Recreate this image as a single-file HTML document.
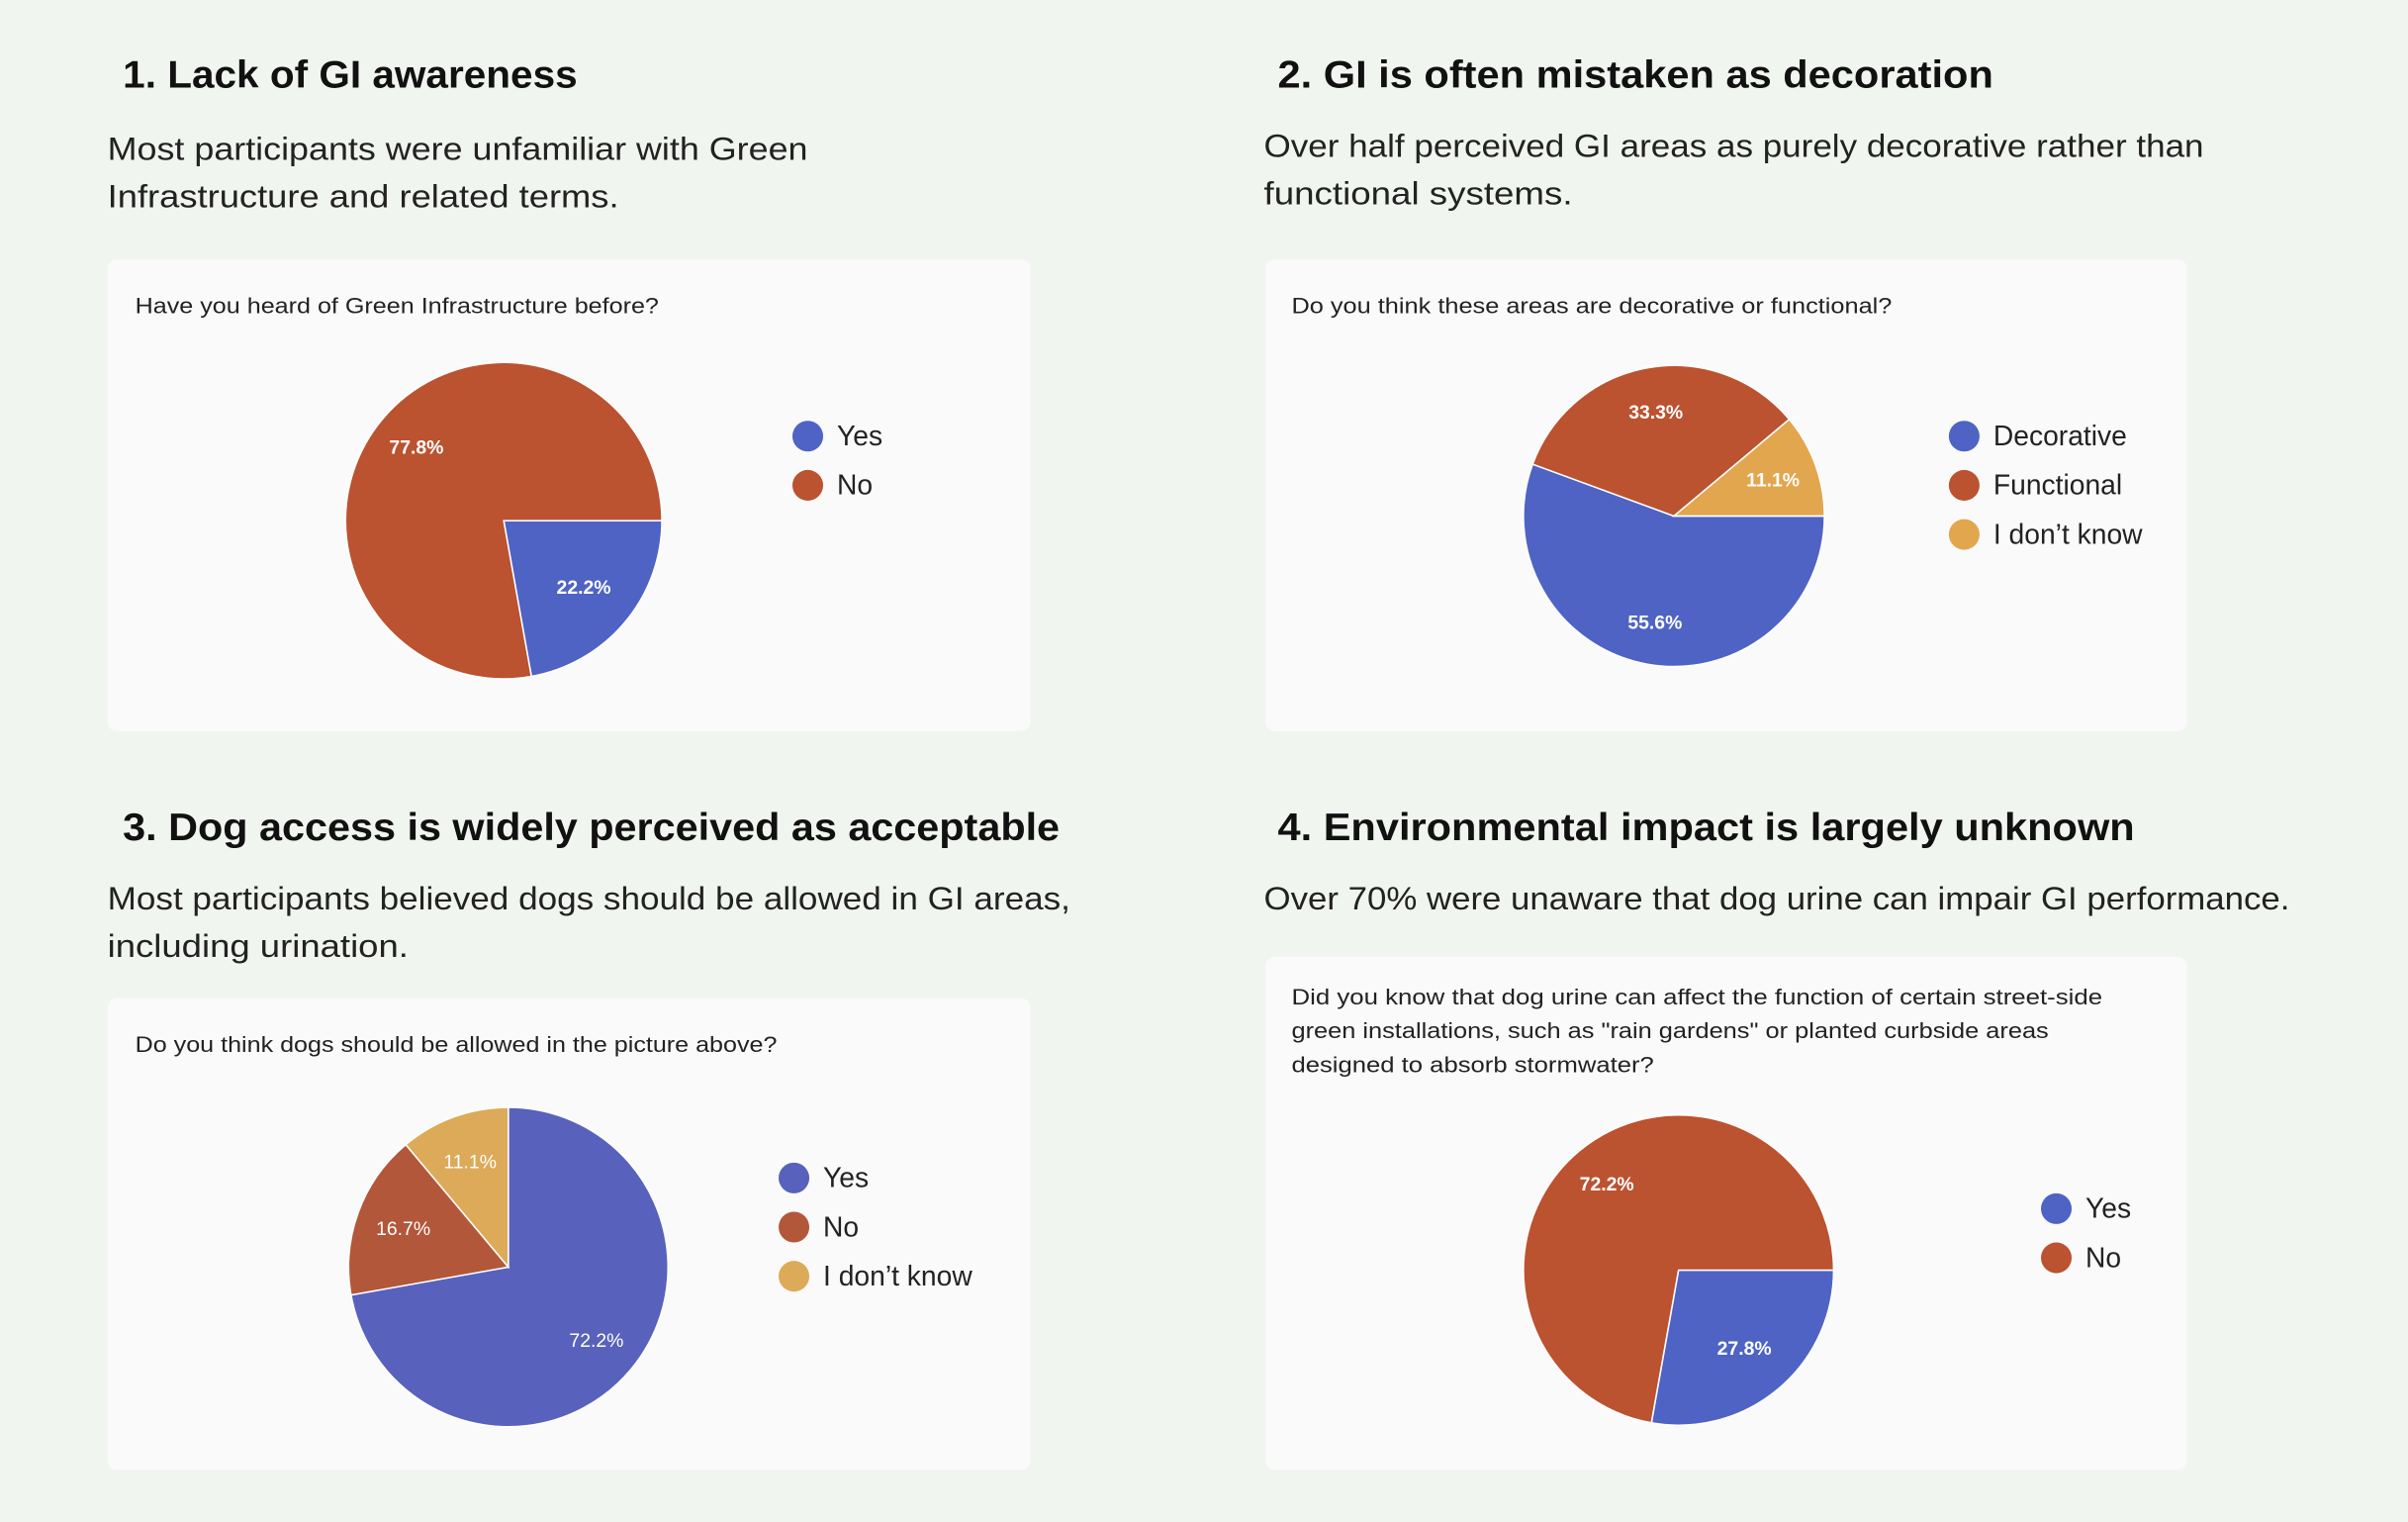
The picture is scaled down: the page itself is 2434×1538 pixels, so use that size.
<!DOCTYPE html>
<html><head><meta charset="utf-8">
<style>
html,body{margin:0;padding:0;background:#f1f5ef;}
svg{display:block;}
text{font-family:"Liberation Sans",sans-serif;}
</style></head>
<body>
<svg id="root" width="2434" height="1538" viewBox="0 0 1568 991" preserveAspectRatio="none" xmlns="http://www.w3.org/2000/svg">
<rect width="1568" height="991" fill="#f1f5ef"/>
<g>
<text x="80" y="57" font-size="25" font-weight="bold" fill="#111" textLength="296" lengthAdjust="spacingAndGlyphs">1. Lack of GI awareness</text>
<text x="70" y="104" font-size="21" fill="#222" textLength="456" lengthAdjust="spacingAndGlyphs">Most participants were unfamiliar with Green</text>
<text x="70" y="135" font-size="21" fill="#222" textLength="333" lengthAdjust="spacingAndGlyphs">Infrastructure and related terms.</text>
<rect x="70" y="169" width="601" height="307" rx="6" fill="#fafafa"/>
<text x="88" y="204" font-size="14.5" fill="#222" textLength="341" lengthAdjust="spacingAndGlyphs">Have you heard of Green Infrastructure before?</text>
</g>
<g>
<text x="832" y="57" font-size="25" font-weight="bold" fill="#111" textLength="466" lengthAdjust="spacingAndGlyphs">2. GI is often mistaken as decoration</text>
<text x="823" y="102" font-size="21" fill="#222" textLength="612" lengthAdjust="spacingAndGlyphs">Over half perceived GI areas as purely decorative rather than</text>
<text x="823" y="133" font-size="21" fill="#222" textLength="201" lengthAdjust="spacingAndGlyphs">functional systems.</text>
<rect x="824" y="169" width="600" height="307" rx="6" fill="#fafafa"/>
<text x="841" y="204" font-size="14.5" fill="#222" textLength="391" lengthAdjust="spacingAndGlyphs">Do you think these areas are decorative or functional?</text>
</g>
<g>
<text x="80" y="547" font-size="25" font-weight="bold" fill="#111" textLength="610" lengthAdjust="spacingAndGlyphs">3. Dog access is widely perceived as acceptable</text>
<text x="70" y="592" font-size="21" fill="#222" textLength="627" lengthAdjust="spacingAndGlyphs">Most participants believed dogs should be allowed in GI areas,</text>
<text x="70" y="623" font-size="21" fill="#222" textLength="196" lengthAdjust="spacingAndGlyphs">including urination.</text>
<rect x="70" y="650" width="601" height="307" rx="6" fill="#fafafa"/>
<text x="88" y="685" font-size="14.5" fill="#222" textLength="418" lengthAdjust="spacingAndGlyphs">Do you think dogs should be allowed in the picture above?</text>
</g>
<g>
<text x="832" y="547" font-size="25" font-weight="bold" fill="#111" textLength="558" lengthAdjust="spacingAndGlyphs">4. Environmental impact is largely unknown</text>
<text x="823" y="592" font-size="21" fill="#222" textLength="668" lengthAdjust="spacingAndGlyphs">Over 70% were unaware that dog urine can impair GI performance.</text>
<rect x="824" y="623" width="600" height="334" rx="6" fill="#fafafa"/>
<text x="841" y="654" font-size="14.5" fill="#222" textLength="528" lengthAdjust="spacingAndGlyphs">Did you know that dog urine can affect the function of certain street-side</text>
<text x="841" y="676" font-size="14.5" fill="#222" textLength="493" lengthAdjust="spacingAndGlyphs">green installations, such as "rain gardens" or planted curbside areas</text>
<text x="841" y="698" font-size="14.5" fill="#222" textLength="236" lengthAdjust="spacingAndGlyphs">designed to absorb stormwater?</text>
</g>
<g id="charts"></g>
</svg>
<script>
const BLUE="#4e63c4",RED="#bb5230",YEL="#e2a64f";
const pie1Labels=["Yes","No"];
const pie1Values=[22.2,77.8];
const pie2Labels=["Decorative","Functional","I don't know"];
const pie2Values=[55.6,33.3,11.1];
const pie3Labels=["Yes","No","I don't know"];
const pie3Values=[72.2,16.7,11.1];
const pie4Labels=["Yes","No"];
const pie4Values=[27.8,72.2];

const NS="http://www.w3.org/2000/svg";
const root=document.getElementById("charts");
function mk(tag,attrs,parent){const e=document.createElementNS(NS,tag);for(const k in attrs)e.setAttribute(k,attrs[k]);parent.appendChild(e);return e;}

function drawPie(id,labels,values,cx,cy,r,startDeg,colors,lx,ly,lStep,labelColor,labelWeight,lr){
  const g=mk("g",{},root);
  
  
  const total=values.reduce((a,b)=>a+b,0);
  let a=startDeg*Math.PI/180;
  values.forEach((v,i)=>{
    const sweep=v/total*2*Math.PI;
    const a2=a+sweep;
    const x1=cx+r*Math.cos(a),y1=cy+r*Math.sin(a),x2=cx+r*Math.cos(a2),y2=cy+r*Math.sin(a2);
    const large=sweep>Math.PI?1:0;
    const p=mk("path",{d:`M${cx},${cy}L${x1},${y1}A${r},${r} 0 ${large} 1 ${x2},${y2}Z`,fill:colors[i],stroke:"#fff","stroke-width":1},g);
    
    
    const mid=a+sweep/2;
    const rr=sweep>Math.PI?0.72:lr;
    const t=mk("text",{x:cx+rr*r*Math.cos(mid),y:cy+rr*r*Math.sin(mid)+4,"text-anchor":"middle","font-size":12.5,fill:labelColor,"font-weight":labelWeight},g);
    t.textContent=v.toFixed(1)+"%";
    
    
    a=a2;
  });
  labels.forEach((l,i)=>{
    const c=mk("circle",{cx:lx,cy:ly+i*lStep,r:10,fill:colors[i]},g);
    
    
    const t=mk("text",{x:lx+19,y:ly+i*lStep+6,"font-size":18.2,fill:"#222"},g);
    t.textContent=l.replace("'","’");
    
    
  });
}
drawPie("pie-gi-heard",pie1Labels,pie1Values,328,339,103,0,[BLUE,RED],526,284,32,"#fff","bold",0.66);
drawPie("pie-decorative",pie2Labels,pie2Values,1090,336,98,0,[BLUE,RED,YEL],1279,284,32,"#fff","bold",0.7);
drawPie("pie-dogs",pie3Labels,pie3Values,331,825,104,-90,["#5862bc","#b3573a","#dcaa58"],517,767,32,"#fff","normal",0.7);
drawPie("pie-urine",pie4Labels,pie4Values,1093,827,101,0,[BLUE,RED],1339,787,32,"#fff","bold",0.66);
</script>
</body></html>
